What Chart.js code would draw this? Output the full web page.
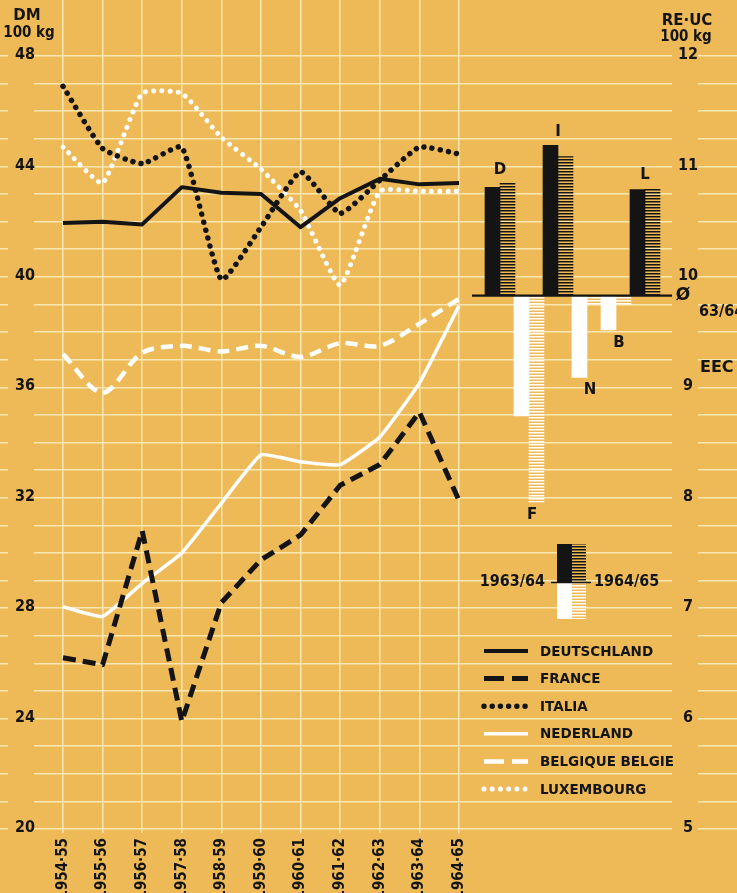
<!DOCTYPE html>
<html lang="en">
<head>
<meta charset="UTF-8">
<title>DM / 100 kg</title>
<script src="https://cdn.jsdelivr.net/npm/chart.js@4.4.0/dist/chart.umd.min.js"></script>
<style>
  html, body { margin: 0; padding: 0; background: #EEBA58; }
  #wrap { position: relative; width: 737px; height: 893px; }
</style>
</head>
<body>
<div id="wrap"><canvas id="priceChart" width="737" height="893"></canvas></div>
<script>
// seasons along the bottom
const seasons = ["1954·55", "1955·56", "1956·57", "1957·58", "1958·59", "1959·60",
                 "1960·61", "1961·62", "1962·63", "1963·64", "1964·65"];

// DM per 100 kg (left axis)
const deutschland = [41.95, 42.0, 41.9, 43.25, 43.05, 43.0, 41.8, 42.85, 43.55, 43.35, 43.4];
const france      = [26.2, 25.95, 30.8, 23.9, 28.2, 29.75, 30.65, 32.45, 33.2, 35.1, 31.9];
const italia      = [46.9, 44.65, 44.1, 44.7, 39.9, 41.8, 43.8, 42.3, 43.5, 44.7, 44.45];
const nederland   = [28.05, 27.7, 28.9, 30.0, 31.8, 33.55, 33.3, 33.2, 34.2, 36.15, 38.95];
const belgique    = [37.2, 35.8, 37.25, 37.5, 37.3, 37.5, 37.1, 37.6, 37.5, 38.3, 39.2];
const luxembourg  = [44.7, 43.4, 46.65, 46.65, 45.05, 43.9, 42.4, 39.7, 43.1, 43.1, 43.1];

// inset bars, RE/UC per 100 kg (right axis), around the EEC average 63/64
const barCountries = ["D", "F", "I", "N", "B", "L"];
const price6364 = [10.81, 8.74, 11.19, 9.09, 9.52, 10.79];
const price6465 = [10.85, 7.96, 11.09, 9.75, 9.75, 10.80];
const eecAverage = 9.83;

const leftTicks = [48, 44, 40, 36, 32, 28, 24, 20];
const rightTicks = [12, 11, 10, 9, 8, 7, 6, 5];

const BG = "#EEBA58";
const GRID = "#F8E7B2";
const INK = "#141414";
const WHITE = "#FFFFFF";

// layout of the page (pixels)
const W = 737, H = 893;
const AREA_BOTTOM = 829;
const TOP_VAL_PX = 56;          // where 48 / 12 sit
const X0 = 63, XSTEP = 39.6;    // first season and spacing
const BX0 = 500, BXSTEP = 29;   // first bar pair and spacing

const dmPerPx = 28 / (AREA_BOTTOM - TOP_VAL_PX);
const ucPerPx = 7 / (AREA_BOTTOM - TOP_VAL_PX);

function hatch(color) {
  const c = document.createElement("canvas");
  c.width = 4; c.height = 3;
  const g = c.getContext("2d");
  g.fillStyle = color;
  g.fillRect(0, 0, 4, 1.5);
  return g.createPattern(c, "repeat");
}
const hatchBlack = hatch(INK);
const hatchWhite = hatch(WHITE);

const NARROW = "'Liberation Sans Narrow', 'DejaVu Sans Condensed', sans-serif";
const GEO = "'DejaVu Sans', 'Liberation Sans', sans-serif";

function lineSet(label, values, color, width, dash, cap, tension) {
  return {
    type: "line",
    label: label,
    data: values.map((v, i) => ({ x: i, y: v })),
    xAxisID: "x",
    yAxisID: "y",
    borderColor: color,
    borderWidth: width,
    borderDash: dash,
    borderCapStyle: cap,
    borderJoinStyle: "round",
    pointRadius: 0,
    tension: tension,
    fill: false
  };
}

const datasets = [
  lineSet("DEUTSCHLAND", deutschland, INK, 4, [], "butt", 0),
  lineSet("FRANCE", france, INK, 5, [13, 7], "butt", 0),
  lineSet("ITALIA", italia, INK, 5.5, [0.01, 8.2], "round", 0.15),
  lineSet("NEDERLAND", nederland, WHITE, 3.5, [], "butt", 0.12),
  lineSet("BELGIQUE BELGIE", belgique, WHITE, 4.5, [12, 7], "butt", 0.3),
  lineSet("LUXEMBOURG", luxembourg, WHITE, 5, [0.01, 8.2], "round", 0.15),
  {
    type: "bar",
    label: "1963/64",
    data: barCountries.map((c, i) => ({ x: i, y: price6364[i] })),
    xAxisID: "x2",
    yAxisID: "y2",
    base: eecAverage,
    barThickness: 15,
    backgroundColor: price6364.map(v => v >= eecAverage ? INK : WHITE),
    borderWidth: 0
  },
  {
    type: "bar",
    label: "1964/65",
    data: barCountries.map((c, i) => ({ x: i, y: price6465[i] })),
    xAxisID: "x2",
    yAxisID: "y2",
    base: eecAverage,
    barThickness: 15,
    backgroundColor: price6465.map(v => v >= eecAverage ? hatchBlack : hatchWhite),
    borderWidth: 0
  }
];

// background, gaps in the grid, labels, key and legend
const decor = {
  id: "decor",
  beforeDraw(chart) {
    const ctx = chart.ctx;
    ctx.save();
    ctx.fillStyle = BG;
    ctx.fillRect(0, 0, W, H);
    ctx.restore();
  },
  beforeDatasetsDraw(chart) {
    const ctx = chart.ctx;
    ctx.save();
    ctx.fillStyle = BG;
    ctx.fillRect(8, 0, 26, AREA_BOTTOM + 2);
    ctx.fillRect(672, 0, 26, AREA_BOTTOM + 2);
    ctx.restore();
  },
  afterDatasetsDraw(chart) {
    const ctx = chart.ctx;
    const y = chart.scales.y, y2 = chart.scales.y2;
    ctx.save();
    ctx.fillStyle = INK;
    ctx.textAlign = "center";
    ctx.textBaseline = "middle";

    // axis numbers
    ctx.font = "bold 16px " + NARROW;
    leftTicks.forEach(v => ctx.fillText(String(v), 25, y.getPixelForValue(v) - 1));
    rightTicks.forEach(v => ctx.fillText(String(v), 688, y2.getPixelForValue(v) - 1));

    // axis headers
    ctx.font = "bold 15px " + GEO;
    ctx.fillText("DM", 27, 16);
    ctx.fillText("RE·UC", 687, 21);
    ctx.font = "bold 15px " + NARROW;
    ctx.fillText("100 kg", 29, 33);
    ctx.fillText("100 kg", 686, 37);

    // EEC average line
    const baseY = y2.getPixelForValue(eecAverage);
    ctx.strokeStyle = INK;
    ctx.lineWidth = 2.2;
    ctx.beginPath();
    ctx.moveTo(472, baseY);
    ctx.lineTo(672, baseY);
    ctx.stroke();
    ctx.font = "bold 17px " + GEO;
    ctx.fillText("Ø", 683, baseY);
    ctx.font = "bold 16px " + NARROW;
    ctx.textAlign = "left";
    ctx.fillText("63/64", 699, baseY + 16);
    ctx.font = "bold 16px " + GEO;
    ctx.fillText("EEC", 700, baseY + 72);

    // bar letters
    const m1 = chart.getDatasetMeta(6).data, m2 = chart.getDatasetMeta(7).data;
    ctx.textAlign = "center";
    ctx.font = "bold 15px " + GEO;
    barCountries.forEach((c, i) => {
      const cx = (m1[i].x + m2[i].x) / 2;
      if (price6364[i] >= eecAverage) {
        ctx.fillText(c, cx, Math.min(m1[i].y, m2[i].y) - 13);
      } else {
        ctx.fillText(c, cx + 3, Math.max(m1[i].y, m2[i].y) + 13);
      }
    });

    // key for the bars
    ctx.fillStyle = INK;
    ctx.fillRect(557, 544, 15, 38);
    ctx.fillStyle = hatchBlack;
    ctx.fillRect(572, 544, 14, 38);
    ctx.fillStyle = WHITE;
    ctx.fillRect(557, 583, 15, 36);
    ctx.fillStyle = hatchWhite;
    ctx.fillRect(572, 583, 14, 36);
    ctx.strokeStyle = INK;
    ctx.lineWidth = 1.5;
    ctx.beginPath();
    ctx.moveTo(551, 582.5);
    ctx.lineTo(591, 582.5);
    ctx.stroke();
    ctx.fillStyle = INK;
    ctx.font = "bold 16px " + NARROW;
    ctx.textAlign = "right";
    ctx.fillText("1963/64", 545, 582);
    ctx.textAlign = "left";
    ctx.fillText("1964/65", 594, 582);

    // legend for the lines
    ctx.font = "bold 13.5px " + GEO;
    for (let i = 0; i < 6; i++) {
      const ds = chart.data.datasets[i];
      const ly = 651 + i * 27.6;
      ctx.save();
      ctx.strokeStyle = ds.borderColor;
      ctx.lineWidth = ds.borderWidth;
      ctx.lineCap = ds.borderCapStyle;
      ctx.setLineDash(ds.borderDash.length && ds.borderDash[0] > 1 ? [20, 8] : ds.borderDash);
      ctx.beginPath();
      ctx.moveTo(484, ly);
      ctx.lineTo(528, ly);
      ctx.stroke();
      ctx.restore();
      ctx.fillStyle = INK;
      ctx.textAlign = "left";
      ctx.fillText(ds.label, 540, ly + 1);
    }
    ctx.restore();
  }
};

new Chart(document.getElementById("priceChart"), {
  type: "line",
  data: { datasets: datasets },
  plugins: [decor],
  options: {
    responsive: false,
    animation: false,
    devicePixelRatio: 1,
    layout: { padding: 0 },
    plugins: { legend: { display: false }, tooltip: { enabled: false } },
    scales: {
      x: {
        type: "linear",
        position: "bottom",
        min: -X0 / XSTEP,
        max: (W - X0) / XSTEP,
        offset: false,
        afterBuildTicks: (scale) => { scale.ticks = seasons.map((s, i) => ({ value: i })); },
        afterFit: (scale) => { scale.height = H - AREA_BOTTOM; },
        ticks: {
          callback: (v) => seasons[v],
          autoSkip: false,
          minRotation: 90,
          maxRotation: 90,
          padding: 5,
          color: INK,
          font: { family: NARROW, size: 15, weight: "bold" }
        },
        grid: { color: GRID, lineWidth: 1.5, tickLength: 4, tickColor: GRID },
        border: { display: false }
      },
      y: {
        type: "linear",
        position: "left",
        min: 20,
        max: 48 + TOP_VAL_PX * dmPerPx,
        afterBuildTicks: (scale) => {
          const t = [];
          for (let v = 20; v <= 48; v++) t.push({ value: v });
          scale.ticks = t;
        },
        afterFit: (scale) => { scale.width = 0; },
        ticks: { display: false },
        grid: { color: GRID, lineWidth: 1.5, drawTicks: false },
        border: { display: false }
      },
      x2: {
        type: "linear",
        display: false,
        offset: false,
        min: -BX0 / BXSTEP,
        max: (W - BX0) / BXSTEP
      },
      y2: {
        type: "linear",
        display: false,
        min: 5,
        max: 12 + TOP_VAL_PX * ucPerPx
      }
    }
  }
});
</script>
</body>
</html>
